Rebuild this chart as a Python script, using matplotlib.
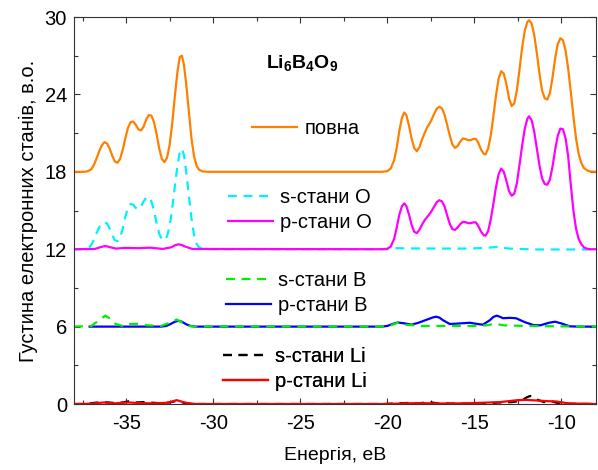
import matplotlib
matplotlib.use('Agg')
import matplotlib.pyplot as plt
import numpy as np

plt.rcParams['font.family'] = ['Liberation Sans', 'DejaVu Sans']
plt.rcParams['mathtext.fontset'] = 'custom'
plt.rcParams['mathtext.rm'] = 'Liberation Sans'
plt.rcParams['mathtext.bf'] = 'Liberation Sans:bold'
plt.rcParams['axes.unicode_minus'] = False

# total DOS (offset 18)
tot_x = [-38.0, -37.4, -37.2, -37.0, -36.85, -36.7, -36.55, -36.4, -36.25, -36.1, -35.95, -35.8, -35.65,
         -35.5, -35.35, -35.2, -35.05, -34.9, -34.75, -34.6, -34.45, -34.3, -34.15, -34.0, -33.85, -33.7,
         -33.55, -33.4, -33.25, -33.1, -32.95, -32.8, -32.65, -32.5, -32.35, -32.2, -32.05, -31.92, -31.8,
         -31.68, -31.55, -31.4, -31.25, -31.1, -30.95, -30.8, -30.6, -30.3,
         -20.3, -20.0, -19.8, -19.6, -19.45, -19.3, -19.15, -19.02, -18.9, -18.75, -18.6, -18.45, -18.3,
         -18.15, -18.0, -17.85, -17.7, -17.5, -17.3, -17.15, -17.0, -16.85, -16.7, -16.55, -16.4, -16.25,
         -16.1, -15.95, -15.8, -15.65, -15.5, -15.35, -15.2, -15.05, -14.9, -14.75, -14.6, -14.45, -14.35,
         -14.2, -14.05, -13.9, -13.75, -13.6, -13.45, -13.3, -13.15, -13.0, -12.85, -12.7, -12.55, -12.4,
         -12.25, -12.1, -11.95, -11.85, -11.7, -11.55, -11.4, -11.25, -11.1, -10.95, -10.8, -10.65, -10.5,
         -10.35, -10.2, -10.05, -9.9, -9.75, -9.6, -9.45, -9.3, -9.15, -9.0, -8.85, -8.7, -8.5, -8.3, -8.0]
tot_y = [18.0, 18.0, 18.05, 18.2, 18.55, 19.05, 19.6, 20.05, 20.3, 20.2, 19.8, 19.25, 18.8,
         18.7, 19.0, 19.7, 20.6, 21.4, 21.85, 21.9, 21.65, 21.3, 21.2, 21.5, 22.05, 22.4,
         22.35, 21.85, 20.9, 19.8, 19.0, 18.75, 19.1, 20.1, 21.8, 23.9, 25.8, 26.9, 27.0,
         26.3, 24.8, 22.7, 20.6, 19.2, 18.45, 18.15, 18.03, 18.0,
         18.0, 18.05, 18.25, 18.9, 19.9, 21.2, 22.2, 22.6, 22.4, 21.6, 20.6, 19.85, 19.6,
         19.9, 20.5, 21.0, 21.45, 21.9, 22.5, 22.9, 23.05, 22.9, 22.4, 21.6, 20.8, 20.1,
         19.85, 20.0, 20.35, 20.58, 20.55, 20.45, 20.45, 20.55, 20.55, 20.2, 19.7, 19.4, 19.35,
         19.8, 20.8, 22.3, 23.9, 25.2, 25.8, 25.6, 24.8, 23.7, 23.1, 23.3, 24.3, 25.9,
         27.6, 28.9, 29.6, 29.75, 29.5, 28.6, 27.2, 25.6, 24.3, 23.7, 23.6, 24.1, 25.3,
         26.8, 27.9, 28.35, 28.2, 27.4, 26.0, 24.2, 22.3, 20.6, 19.4, 18.7, 18.3, 18.1, 18.02, 18.0]

# O s-states (offset 12)
os_x = [-38.0, -37.3, -37.15, -37.0, -36.85, -36.7, -36.55, -36.4, -36.25, -36.1, -35.95, -35.8, -35.65,
        -35.5, -35.35, -35.2, -35.05, -34.9, -34.75, -34.6, -34.45, -34.3, -34.15, -34.0, -33.85, -33.7,
        -33.55, -33.4, -33.25, -33.1, -32.95, -32.8, -32.65, -32.5, -32.35, -32.2, -32.05, -31.92, -31.8,
        -31.68, -31.55, -31.4, -31.25, -31.1, -30.95, -30.8, -30.6, -30.3,
        -20.0, -19.5, -18.5, -17.0, -15.5, -14.3, -13.7, -13.0, -11.5, -10.0, -8.0]
os_y = [12.0, 12.0, 12.1, 12.35, 12.75, 13.25, 13.7, 13.98, 14.1, 14.0, 13.6, 13.1, 12.7,
        12.62, 12.9, 13.6, 14.5, 15.2, 15.5, 15.45, 15.2, 15.1, 15.3, 15.7, 16.0, 16.05,
        15.7, 15.0, 14.0, 13.2, 12.75, 12.7, 13.0, 13.8, 15.2, 16.9, 18.5, 19.5, 19.8,
        19.3, 18.0, 16.2, 14.4, 13.1, 12.4, 12.12, 12.02, 12.0,
        12.0, 12.08, 12.06, 12.05, 12.05, 12.1, 12.18, 12.05, 11.98, 11.98, 11.98]

# O p-states (offset 12)
op_x = [-38.0, -36.8, -36.5, -36.2, -35.9, -35.6, -35.0, -34.3, -33.6, -32.9, -32.4, -32.2, -32.0,
        -31.8, -31.6, -31.2,
        -20.3, -20.0, -19.8, -19.6, -19.45, -19.3, -19.15, -19.02, -18.9, -18.75, -18.6, -18.45, -18.3,
        -18.15, -18.0, -17.85, -17.7, -17.5, -17.3, -17.15, -17.0, -16.85, -16.7, -16.55, -16.4, -16.25,
        -16.1, -15.95, -15.8, -15.65, -15.5, -15.35, -15.2, -15.05, -14.9, -14.75, -14.6, -14.45, -14.35,
        -14.2, -14.05, -13.9, -13.75, -13.6, -13.45, -13.3, -13.15, -13.0, -12.85, -12.7, -12.55, -12.4,
        -12.25, -12.1, -11.95, -11.85, -11.7, -11.55, -11.4, -11.25, -11.1, -10.95, -10.8, -10.65, -10.5,
        -10.35, -10.2, -10.05, -9.9, -9.75, -9.6, -9.45, -9.3, -9.15, -9.0, -8.85, -8.7, -8.5, -8.3, -8.0]
op_y = [12.0, 12.02, 12.15, 12.25, 12.15, 12.05, 12.1, 12.08, 12.12, 12.02, 12.15, 12.3, 12.38,
        12.32, 12.2, 12.02,
        12.0, 12.03, 12.2, 12.8, 13.7, 14.7, 15.35, 15.55, 15.35, 14.7, 13.9, 13.35, 13.25,
        13.5, 13.9, 14.25, 14.5, 14.85, 15.3, 15.65, 15.8, 15.7, 15.3, 14.6, 13.95, 13.55,
        13.5, 13.7, 13.95, 14.12, 14.1, 14.02, 14.02, 14.08, 14.08, 13.75, 13.35, 13.08, 13.05,
        13.4, 14.3, 15.5, 16.8, 17.8, 18.25, 18.0, 17.3, 16.5, 16.15, 16.3, 17.1, 18.5,
        20.0, 21.3, 22.1, 22.3, 22.0, 21.1, 19.8, 18.5, 17.5, 17.05, 17.0, 17.4, 18.4,
        19.7, 20.8, 21.35, 21.3, 20.6, 19.2, 17.0, 15.0, 13.6, 12.8, 12.4, 12.15, 12.03, 12.0, 12.0]

# B s-states (offset 6)
bs_x = [-38.0, -37.0, -36.6, -36.2, -35.9, -35.6, -35.2, -34.8, -34.3, -33.8, -33.0, -32.5, -32.1,
        -31.7, -31.3, -20.3, -19.8, -19.4, -19.0, -18.0, -16.5, -15.0, -14.3, -13.8, -13.3, -12.0,
        -10.0, -8.0]
bs_y = [6.0, 6.05, 6.45, 6.85, 6.6, 6.2, 6.05, 6.2, 6.22, 6.1, 6.05, 6.3, 6.55,
        6.25, 6.02, 6.0, 6.1, 6.3, 6.15, 6.05, 6.05, 6.05, 6.1, 6.22, 6.1, 6.05,
        6.02, 6.0]

# B p-states (offset 6)
bp_x = [-37.1, -33.0, -32.7, -32.45, -32.2, -32.0, -31.8, -31.55, -31.3, -31.0, -20.3, -20.0, -19.7,
        -19.4, -19.0, -18.6, -18.2, -17.7, -17.4, -17.2, -17.0, -16.8, -16.4, -15.8, -15.25, -14.8,
        -14.5, -14.1, -13.9, -13.7, -13.5, -13.35, -12.95, -12.6, -12.1, -11.6, -11.2, -10.7, -10.35,
        -10.0, -9.5, -9.0, -8.0]
bp_y = [6.0, 6.0, 6.05, 6.2, 6.38, 6.45, 6.38, 6.18, 6.05, 6.0, 6.0, 6.05, 6.2,
        6.32, 6.25, 6.15, 6.3, 6.55, 6.7, 6.77, 6.7, 6.5, 6.2, 6.25, 6.3, 6.2,
        6.15, 6.5, 6.75, 6.85, 6.75, 6.65, 6.68, 6.65, 6.35, 6.12, 6.1, 6.3, 6.38,
        6.25, 6.02, 6.0, 6.0]

# Li s-states
lis_x = [-38.0, -37.3, -36.9, -36.4, -36.0, -35.5, -35.1, -34.8, -34.4, -34.0, -33.5, -32.9, -32.4,
         -32.1, -31.7, -31.2, -20.2, -19.5, -18.8, -18.2, -17.6, -17.1, -16.0, -14.5, -13.5, -12.8,
         -12.3, -12.0, -11.8, -11.6, -11.4, -11.0, -10.6, -10.2, -9.5, -8.0]
lis_y = [0.0, 0.0, 0.08, 0.15, 0.12, 0.05, 0.15, 0.22, 0.12, 0.15, 0.1, 0.05, 0.15,
         0.25, 0.1, 0.0, 0.0, 0.05, 0.08, 0.05, 0.15, 0.05, 0.03, 0.05, 0.12, 0.15,
         0.25, 0.5, 0.62, 0.58, 0.35, 0.15, 0.22, 0.08, 0.02, 0.0]

# Li p-states
lip_x = [-38.0, -37.0, -36.3, -35.7, -34.9, -34.3, -33.5, -32.6, -32.3, -32.1, -31.9, -31.6, -31.0,
         -20.0, -19.0, -18.0, -17.0, -15.5, -14.5, -13.5, -12.5, -12.0, -11.5, -10.8, -10.3, -9.6, -8.0]
lip_y = [0.0, 0.02, 0.12, 0.05, 0.12, 0.08, 0.05, 0.1, 0.22, 0.3, 0.22, 0.1, 0.0,
         0.0, 0.05, 0.07, 0.04, 0.05, 0.1, 0.15, 0.3, 0.32, 0.28, 0.22, 0.2, 0.05, 0.0]

fig = plt.figure(figsize=(5.98, 4.70), dpi=100)
ax = fig.add_axes([0.1237, 0.1404, 0.873, 0.8234])

fs = 14.5
lw = 1.6
dsh = (4, 3)
l_tot, = ax.plot(tot_x, tot_y, color='#ff8000', lw=lw)
l_os, = ax.plot(os_x, os_y, color='#00f0ff', lw=lw, dashes=dsh)
l_op, = ax.plot(op_x, op_y, color='#ff00ff', lw=lw)
l_bp, = ax.plot(bp_x, bp_y, color='#0000ff', lw=lw)
l_bs, = ax.plot(bs_x, bs_y, color='#00ee00', lw=lw, dashes=dsh)
l_lis, = ax.plot(lis_x, lis_y, color='black', lw=lw, dashes=dsh)
l_lip, = ax.plot(lip_x, lip_y, color='#ff0000', lw=lw)

ax.set_xlim(-38, -8)
ax.set_ylim(0, 30)
ax.set_xticks([-35, -30, -25, -20, -15, -10])
ax.set_xticks(np.arange(-37.5, -8, 2.5), minor=True)
ax.set_yticks([0, 6, 12, 18, 24, 30])
ax.set_yticks([3, 9, 15, 21, 27], minor=True)
ax.tick_params(which='both', direction='in', top=True, right=True, labelsize=fs, color='#333333')
ax.tick_params(which='major', length=4.5, width=0.8)
ax.tick_params(which='minor', length=3, width=0.8)
ax.tick_params(axis='x', pad=7)
ax.tick_params(axis='y', pad=5)
for s in ax.spines.values():
    s.set_color('#333333')
    s.set_linewidth(0.8)

ax.set_xlabel('Енергія, еВ', fontsize=fs - 0.5, labelpad=10)
ax.set_ylabel('Густина електронних станів, в.о.', fontsize=fs, labelpad=5)

ax.text(0.437, 0.881, r'$\mathbf{Li_6B_4O_9}$', transform=ax.transAxes,
        ha='center', va='center', fontsize=14)

def group(handles, labels, x, y):
    lg = ax.legend(handles, labels, loc='center left', bbox_to_anchor=(x, y),
                   frameon=False, fontsize=fs, handlelength=2.25, handletextpad=0.35,
                   borderpad=0, borderaxespad=0, labelspacing=0.3)
    ax.add_artist(lg)

group([l_tot], ['повна'], 0.341, 0.711)
group([l_os, l_op], ['s-стани O', 'p-стани O'], 0.295, 0.501)
group([l_bs, l_bp], ['s-стани B', 'p-стани B'], 0.291, 0.287)
group([l_lis, l_lip], ['s-стани Li', 'p-стани Li'], 0.285, 0.0904)

fig.savefig('out.png', dpi=100)
